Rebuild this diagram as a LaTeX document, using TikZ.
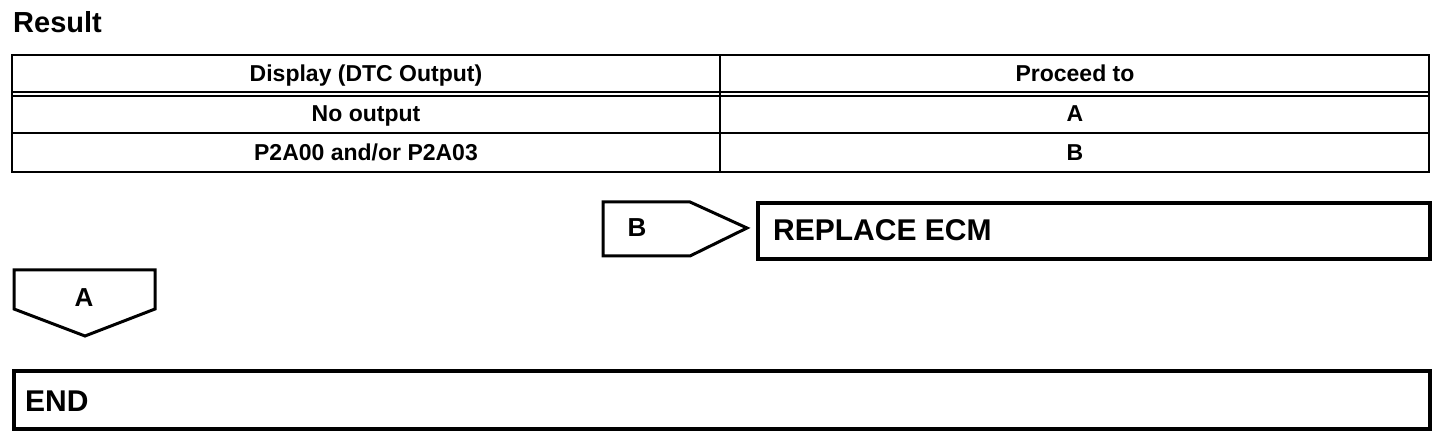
\documentclass[tikz,border=0pt]{standalone}
\usepackage{fontspec}
\setmainfont{Liberation Sans}
\begin{document}
\begin{tikzpicture}[x=1pt,y=-1pt]
        \useasboundingbox (0,0) rectangle (1456,446);

        \node[anchor=base west, inner sep=0, font=\bfseries\fontsize{29}{29}\selectfont] (title) at (13,33) {Result};

        % table
        \begin{scope}[line width=2pt]
          \draw (12,55) rectangle (1429,172);
          \draw (12,92) -- (1429,92);
          \draw (12,96) -- (1429,96);
          \draw (12,133) -- (1429,133);
          \draw (720,55) -- (720,172);
        \end{scope}

        \begin{scope}[every node/.style={anchor=base, inner sep=0, font=\bfseries\fontsize{23}{23}\selectfont}]
          \node (disp)  at (366,82)   {Display (DTC Output)};
          \node (proc)  at (1075,82)  {Proceed to};
          \node (none)  at (366,122)  {No output};
          \node (nonea) at (1075,122) {A};
          \node (dtc)   at (366,161)  {P2A00 and/or P2A03};
          \node (dtcb)  at (1075,161) {B};
        \end{scope}

        % tags
        \begin{scope}[line width=3pt, line join=miter]
          \draw (603,202) -- (690,202) -- (747,228) -- (690,256) -- (603,256) -- cycle;
          \draw (14,270) -- (155,270) -- (155,309) -- (85,336) -- (14,309) -- cycle;
        \end{scope}

        \begin{scope}[every node/.style={anchor=base, inner sep=0, font=\bfseries\fontsize{26}{26}\selectfont}]
          \node (tagb) at (637,237) {B};
          \node (taga) at (84,306)  {A};
        \end{scope}

        % boxes
        \begin{scope}[every node/.style={draw, line width=4pt, inner sep=0}]
          \node[minimum width=672, minimum height=56] (replace) at (1094,231) {};
          \node[minimum width=1416, minimum height=58] (end) at (722,400) {};
        \end{scope}

        \begin{scope}[every node/.style={anchor=base west, inner sep=0, font=\bfseries\fontsize{30}{30}\selectfont}]
          \node (replacetxt) at (773,241) {REPLACE ECM};
          \node (endtxt)     at (25,411)  {END};
        \end{scope}

      \end{tikzpicture}
\end{document}
